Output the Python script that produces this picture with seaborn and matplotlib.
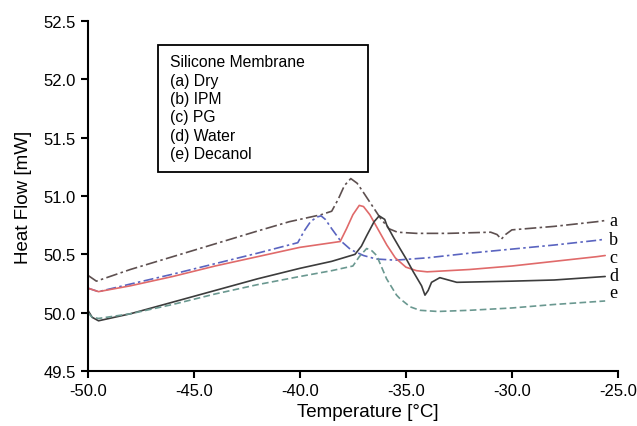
import numpy as np
import pandas as pd
import matplotlib
matplotlib.use('Agg')
import matplotlib.pyplot as plt
import seaborn as sns
from matplotlib.patches import Rectangle
from matplotlib.ticker import FormatStrFormatter

# DSC traces (temperature in C, heat flow in mW)
x_a = [-50.0, -49.6, -48, -46, -44, -42, -40.5, -39.0, -38.5, -38.2, -37.9, -37.6, -37.3, -37.0,
       -36.6, -36.2, -35.8, -35.4, -34.5, -33, -31, -30.7, -30.5, -30.3, -30.0, -28, -26, -25.6]
y_a = [50.32, 50.27, 50.37, 50.48, 50.59, 50.70, 50.78, 50.84, 50.87, 50.97, 51.09, 51.15, 51.11, 51.03,
       50.92, 50.81, 50.72, 50.69, 50.68, 50.68, 50.69, 50.67, 50.63, 50.67, 50.71, 50.74, 50.78, 50.79]

x_b = [-50, -49.5, -48, -46, -44, -42, -40.1, -39.8, -39.5, -39.2, -39.0, -38.8, -38.5, -38.1,
       -37.6, -37.0, -36.4, -35.5, -34, -32, -30, -28, -26, -25.6]
y_b = [50.21, 50.18, 50.245, 50.33, 50.42, 50.51, 50.60, 50.70, 50.78, 50.82, 50.83, 50.80, 50.72, 50.62,
       50.54, 50.49, 50.46, 50.45, 50.47, 50.51, 50.545, 50.58, 50.62, 50.63]

x_c = [-50, -49.5, -48, -46, -44, -42, -40, -38.1, -37.8, -37.5, -37.2, -37.0, -36.7, -36.3,
       -35.9, -35.5, -35.0, -34.5, -34, -32, -30, -28, -26, -25.6]
y_c = [50.21, 50.18, 50.23, 50.31, 50.40, 50.48, 50.56, 50.61, 50.72, 50.84, 50.92, 50.91, 50.84, 50.71,
       50.58, 50.47, 50.39, 50.36, 50.35, 50.37, 50.40, 50.44, 50.48, 50.49]

x_d = [-50, -49.8, -49.5, -48, -46, -45, -44, -42, -40, -38.5, -37.4, -37.1, -36.85, -36.5, -36.26,
       -36.0, -35.9, -35.6, -35.28, -34.95, -34.65, -34.26, -34.1, -33.95, -33.79, -33.4, -33.0,
       -32.6, -30, -28, -25.6]
y_d = [50.02, 49.96, 49.93, 49.99, 50.09, 50.14, 50.19, 50.29, 50.38, 50.44, 50.50, 50.57, 50.66, 50.78, 50.83,
       50.80, 50.75, 50.65, 50.55, 50.45, 50.35, 50.23, 50.15, 50.19, 50.26, 50.30, 50.28,
       50.26, 50.27, 50.28, 50.31]

x_e = [-50, -49.8, -49.5, -48, -46, -44, -42, -40, -38.5, -37.5, -37.2, -36.85, -36.6, -36.38,
       -35.91, -35.44, -35.28, -34.8, -34.34, -33.5, -32, -30, -28, -25.6]
y_e = [50.00, 49.96, 49.95, 49.99, 50.07, 50.16, 50.24, 50.31, 50.36, 50.40, 50.48, 50.55, 50.53, 50.49,
       50.29, 50.15, 50.12, 50.05, 50.02, 50.01, 50.02, 50.04, 50.07, 50.10]

curve_names = ['a', 'b', 'c', 'd', 'e']
legend_lines = ['Silicone Membrane', '(a) Dry', '(b) IPM', '(c) PG', '(d) Water', '(e) Decanol']
label_y = [50.79, 50.63, 50.47, 50.32, 50.17]

colors = ['#5e5050', '#5a64c0', '#e06a6a', '#3c3c3c', '#6a9890']
styles = [(0, (7, 2, 1.5, 2)), (0, (6, 2, 1.5, 2)), '-', '-', (0, (4, 2))]

sns.set_style('ticks')
plt.rcParams['font.family'] = ['Liberation Sans', 'DejaVu Sans']
plt.rcParams['text.color'] = 'black'
plt.rcParams['axes.labelcolor'] = 'black'

fig = plt.figure(figsize=(6.37, 4.27), dpi=100)
ax = fig.add_axes([0.138, 0.129, 0.832, 0.819])

xs = [x_a, x_b, x_c, x_d, x_e]
ys = [y_a, y_b, y_c, y_d, y_e]
for name, x, y, col, ls in zip(curve_names, xs, ys, colors, styles):
    df = pd.DataFrame({'T': x, 'HF': y})
    sns.lineplot(data=df, x='T', y='HF', ax=ax, color=col, linestyle=ls, linewidth=1.2)

for name, yy in zip(curve_names, label_y):
    ax.text(-25.4, yy, name, fontsize=13, family='Liberation Serif', va='center', ha='left',
            clip_on=False)

ax.set_xlim(-50, -25)
ax.set_ylim(49.5, 52.5)
ax.set_xticks([-50, -45, -40, -35, -30, -25])
ax.set_yticks([49.5, 50.0, 50.5, 51.0, 51.5, 52.0, 52.5])
ax.xaxis.set_major_formatter(FormatStrFormatter('%.1f'))
ax.yaxis.set_major_formatter(FormatStrFormatter('%.1f'))
ax.tick_params(direction='out', length=5, width=1.5, labelsize=12, colors='black')
for s in ['left', 'bottom']:
    ax.spines[s].set_linewidth(1.5)
    ax.spines[s].set_color('black')
sns.despine(ax=ax)

ax.set_xlabel('Temperature [\u00b0C]', fontsize=13.5)
ax.set_ylabel('Heat Flow [mW]', fontsize=13.5)
ax.xaxis.set_label_coords((368 - 88) / 530, -0.092)
ax.yaxis.set_label_coords(-0.106, 0.5)

# legend-like box
box = Rectangle((158 / 637, 1 - 173 / 427), (368 - 158) / 637, (173 - 46) / 427,
                transform=fig.transFigure, fill=False, edgecolor='black', linewidth=1.3)
fig.patches.append(box)
for i, line in enumerate(legend_lines):
    fig.text(170 / 637, 1 - (63 + i * 18.3) / 427, line, fontsize=11.3, va='center', ha='left')

fig.savefig('out.png', dpi=100)
